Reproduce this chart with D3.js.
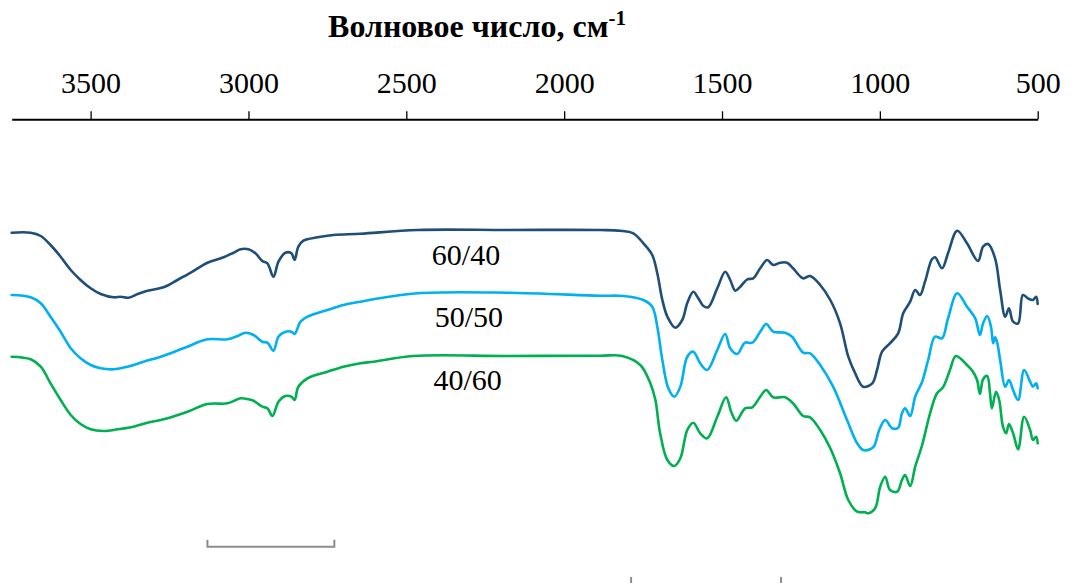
<!DOCTYPE html>
<html>
<head>
<meta charset="utf-8">
<script src="https://cdn.jsdelivr.net/npm/d3@7"></script>
<style>
  html, body { margin: 0; padding: 0; background: #fff; }
  svg { display: block; }
  text { font-family: "Liberation Serif", "Times New Roman", serif; }
</style>
</head>
<body>
<svg id="chart" width="1073" height="583"></svg>
<script>
// IR spectra of the three blend ratios, stacked with vertical offsets.
// Each series: [wavenumber (cm-1), relative transmittance (offset units)].
const series6040 = [
  [3750,367.3],[3690,367.3],[3658,364],[3627,355],[3595,343.3],[3563,330],[3532,320],[3500,311.7],
  [3468,306],[3427,302.7],[3405,303.3],[3380,302.3],[3351,306],[3320,309.3],[3269,312.7],[3225,320],
  [3183,327.3],[3130,337.3],[3079,342.7],[3047,347.3],[3025,350.7],[3000,350.7],[2978,346.7],[2956,339],
  [2940,336.7],[2921,323.3],[2905,338.3],[2883,347.3],[2864,346.7],[2854,340],[2842,353.3],[2826,359.3],
  [2781,362.7],[2731,365],[2645,366.3],[2465,370],[2180,370],[1886,370],[1822,369.3],[1781,366.7],
  [1749,356.7],[1721,345],[1705,326.7],[1689,300],[1673,283.3],[1648,272.3],[1626,280],[1610,297],
  [1591,308.3],[1575,301.7],[1559,294],[1544,292.7],[1515,311.7],[1490,328.3],[1474,320],[1458,309.3],
  [1442,313.3],[1420,320.7],[1401,321.7],[1379,331.7],[1357,340],[1338,335],[1316,337.3],[1294,337.3],
  [1275,331.7],[1243,321.7],[1221,324],[1189,315],[1157,300],[1126,276.7],[1100,243.3],[1078,226.7],
  [1053,213.3],[1024,216.7],[1009,230],[993,248.3],[968,256.7],[942,266.7],[926,286.7],[904,298.3],
  [888,310],[873,305],[857,318.3],[835,340.7],[825,342.7],[803,331.7],[784,346.7],[755,369.3],
  [724,356.7],[689,339],[673,353.3],[657,356],[635,341.7],[619,310],[603,283.3],[591,291.7],
  [578,278.3],[562,276.7],[547,305],[531,301.7],[515,300],[505,303.3],[500,296]
];

const series5050 = [
  [3750,305],[3690,302.7],[3658,296.7],[3627,283.3],[3595,268.3],[3563,251.7],[3532,241.7],[3500,235],
  [3468,231.7],[3427,230.7],[3383,233.3],[3332,238.3],[3278,243.3],[3206,251.7],[3130,260.7],[3066,260.7],
  [3035,264],[3009,267.3],[2984,265],[2956,258.3],[2940,257.3],[2921,249.3],[2905,263.3],[2883,268.3],
  [2864,268.3],[2854,266],[2835,278.3],[2813,283.3],[2750,290],[2699,295],[2645,298.3],[2604,300.7],
  [2465,306.7],[2180,307.3],[1886,304.3],[1813,304],[1749,300],[1721,293.3],[1705,273.3],[1689,240],
  [1670,211.7],[1651,203.3],[1632,213.3],[1610,243.3],[1591,248.3],[1569,236.7],[1547,230],[1515,250],
  [1490,266],[1474,251.7],[1452,246],[1427,257.3],[1404,257.3],[1379,268.3],[1360,276],[1338,268.3],
  [1300,267.3],[1278,263.3],[1243,247.3],[1221,246.7],[1189,235],[1148,213.3],[1104,180],[1072,156.7],
  [1053,150],[1031,150.7],[1018,154],[1002,170],[983,180],[961,171.7],[942,172.3],[930,186.7],
  [920,191.7],[904,184],[888,203.3],[866,218.3],[847,240],[825,263.3],[803,261.7],[784,281.7],
  [755,306.7],[724,293.3],[698,281.7],[683,265],[673,276.7],[660,284],[648,273.3],[641,256.7],
  [635,262.7],[629,258.3],[619,240],[603,213.3],[591,220],[578,210],[562,200],[543,230],
  [524,218.3],[515,213.3],[505,216.7],[500,211.7]
];

const series4060 = [
  [3750,243.3],[3690,240.7],[3658,233.3],[3627,216.7],[3595,200],[3563,185],[3532,176],[3500,170.7],
  [3459,169],[3415,170.7],[3364,173.3],[3320,177.3],[3269,180.7],[3193,188.3],[3130,196],[3066,196.7],
  [3025,201.7],[3000,200.7],[2984,199.3],[2956,193.3],[2940,191.7],[2924,184],[2905,198.3],[2883,204],
  [2864,203.3],[2854,200],[2842,213.3],[2813,221.7],[2750,228.3],[2699,233.3],[2645,236.7],[2604,238.3],
  [2478,244],[2180,244],[1886,244.3],[1816,244],[1759,235],[1727,216.7],[1711,200],[1696,166.7],
  [1673,140],[1651,134],[1632,141.7],[1610,170],[1591,177.3],[1569,166.7],[1547,161.7],[1515,183.3],
  [1487,202.7],[1471,188.3],[1455,179.3],[1427,191.7],[1404,192.7],[1379,203.3],[1360,210],[1338,202.7],
  [1300,202.7],[1275,196.7],[1243,184],[1221,182.7],[1189,170],[1157,151.7],[1126,126.7],[1100,100],
  [1072,88.3],[1047,87.7],[1037,86.7],[1015,91.7],[999,113.3],[983,123.3],[968,110],[945,108.3],
  [930,120],[920,125],[904,114],[888,133.3],[866,155],[841,186.7],[819,206.7],[800,212.7],
  [778,230],[759,244],[724,235],[705,228.3],[692,220],[683,206],[673,220.7],[660,224],
  [651,206.7],[645,191.7],[632,208.3],[622,200],[610,173.3],[600,166.7],[591,176],[578,166.7],
  [562,150.7],[543,183.3],[524,170],[515,160],[505,163.3],[500,156.7]
];

const seriesNames = ["60/40", "50/50", "40/60"];
const seriesColors = ["#1f4e79", "#00b0f0", "#00b050"];
const seriesData = [series6040, series5050, series4060];
// Label anchor for each curve: [wavenumber, value]
const labelPos = [[2311, 335], [2302, 272.7], [2306, 210]];

const tickValues = [3500, 3000, 2500, 2000, 1500, 1000, 500];
const axisTitle = "Волновое число, см";
const axisTitleSup = "-1";

// Grey bracket marks below the spectra: [from wavenumber, to wavenumber, level, tick height]
const brackets = [[3130, 2728, 53.3, 7], [1788, 1313, 14, 9]];

const svg = d3.select("#chart");

const x = d3.scaleLinear().domain([3750, 500]).range([11.7, 1037.7]);
const y = d3.scaleLinear().domain([0, 400]).range([600, 200]);

// Top axis
const axis = d3.axisTop(x)
  .tickValues(tickValues)
  .tickSize(8)
  .tickSizeOuter(0)
  .tickPadding(18)
  .tickFormat(d3.format("d"));

const gAxis = svg.append("g")
  .attr("transform", "translate(0,119.3)")
  .call(axis);
gAxis.select(".domain").attr("stroke", "#000").attr("stroke-width", 2);
gAxis.selectAll(".tick line").attr("stroke", "#000").attr("stroke-width", 1.3);
gAxis.selectAll(".tick text")
  .attr("fill", "#000")
  .style("font-family", "'Liberation Serif', 'Times New Roman', serif")
  .style("font-size", "30px");

// Axis title with superscript
const title = svg.append("text")
  .attr("x", 477)
  .attr("y", 36.7)
  .attr("text-anchor", "middle")
  .style("font-size", "32px")
  .style("font-weight", "bold")
  .attr("fill", "#000");
title.append("tspan").text(axisTitle);
title.append("tspan")
  .attr("dy", -12)
  .style("font-size", "21px")
  .text(axisTitleSup);

// Spectra
const line = d3.line()
  .x(d => x(d[0]))
  .y(d => y(d[1]))
  .curve(d3.curveCatmullRom.alpha(0.5));

svg.append("g")
  .selectAll("path")
  .data(seriesData)
  .join("path")
  .attr("d", line)
  .attr("fill", "none")
  .attr("stroke", (d, i) => seriesColors[i])
  .attr("stroke-width", 2.6)
  .attr("stroke-linejoin", "round")
  .attr("stroke-linecap", "round");

// Curve labels
svg.append("g")
  .selectAll("text")
  .data(seriesNames)
  .join("text")
  .attr("x", (d, i) => x(labelPos[i][0]))
  .attr("y", (d, i) => y(labelPos[i][1]))
  .attr("text-anchor", "middle")
  .style("font-size", "30px")
  .attr("fill", "#000")
  .text(d => d);

// Grey brackets
const bracketG = svg.append("g")
  .attr("fill", "none")
  .attr("stroke", "#8c8c8c")
  .attr("stroke-width", 2);
brackets.forEach(([a, b, lvl, h]) => {
  const x0 = x(a), x1 = x(b), yy = y(lvl);
  bracketG.append("path")
    .attr("d", `M${x0},${yy - h}V${yy}H${x1}V${yy - h}`);
});
</script>
</body>
</html>
